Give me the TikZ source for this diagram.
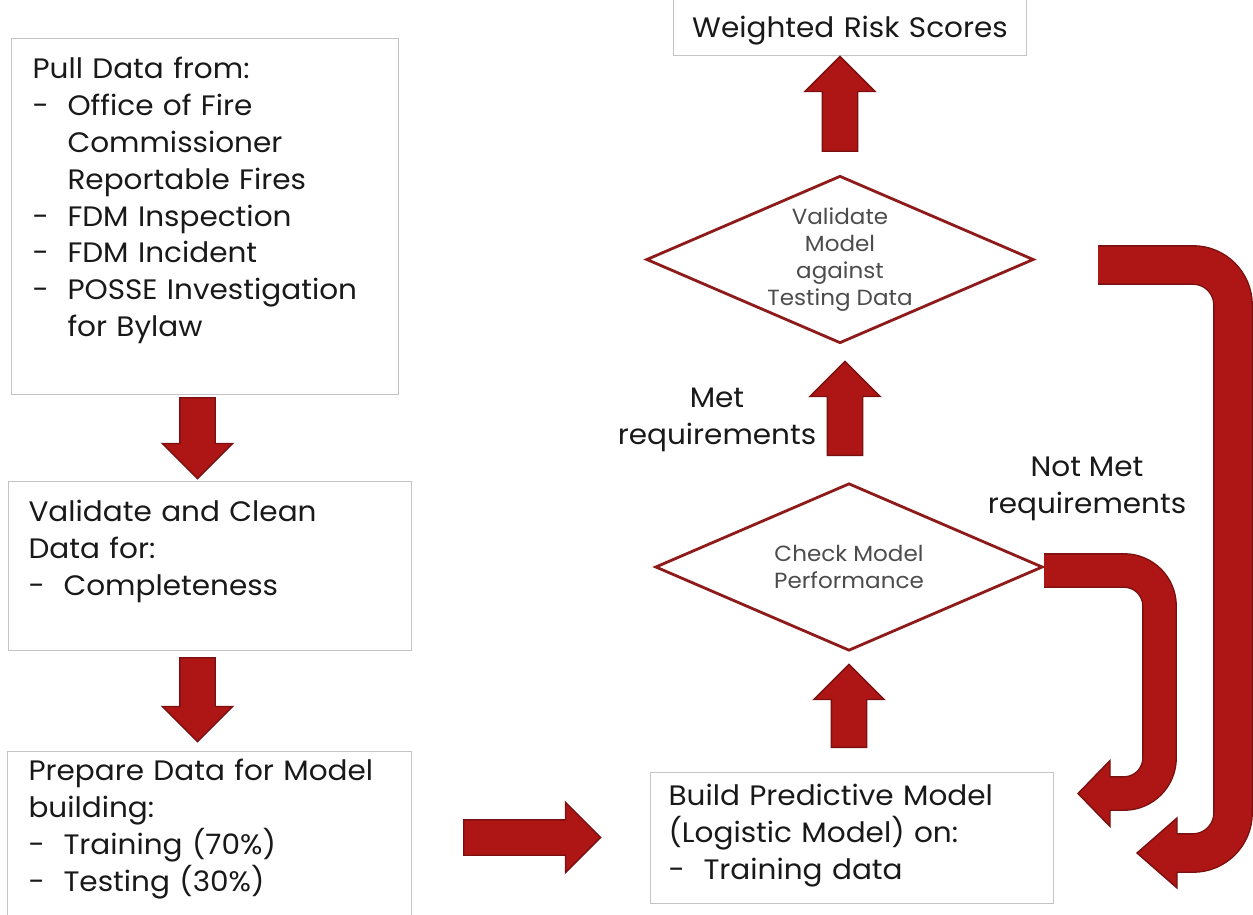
\documentclass[tikz,border=0pt]{standalone}
\usepackage{fontspec}
\setmainfont{Poppins}[FakeStretch=1.05]
\usetikzlibrary{shapes.geometric,shapes.arrows}
\definecolor{arrowred}{HTML}{AE1515}
\definecolor{arrowedge}{HTML}{7A1010}
\definecolor{diamondred}{HTML}{8E1A1A}
\definecolor{boxline}{HTML}{C4C4C4}
\newcommand\dashitem{\makebox[0.7cm][l]{-}}
\newcommand\hangitem{\hspace*{0.7cm}}

\tikzset{
  stepbox/.style={draw=boxline, line width=0.6pt, anchor=north west, align=left,
    inner ysep=0pt, text=black!90, font=\fontsize{16}{21}\selectfont},
  decision/.style={diamond, draw=diamondred, line width=1.6pt, aspect=2.3,
    minimum width=7.75cm, minimum height=3.35cm, inner sep=0pt, align=center,
    text=black!70, font=\fontsize{12.5}{15.3}\selectfont},
  blockarrow/.style={single arrow, draw=arrowedge, fill=arrowred, line width=0.8pt,
    anchor=tail, inner xsep=0pt, inner ysep=0.34cm, text height=0pt, text depth=0pt,
    single arrow head extend=0.35cm},
  loopshaft/.style={draw=arrowedge, line width=0.8pt, double=arrowred, rounded corners=#1},
  loophead/.style={fill=arrowred, draw=arrowedge, line width=0.8pt},
  steplabel/.style={align=center, text=black!90, font=\fontsize{16}{21}\selectfont}
}

\begin{document}
\begin{tikzpicture}[x=0.02cm, y=-0.02cm]
  \useasboundingbox (0,0) rectangle (1253,915);

  % left column
  \node[stepbox, inner xsep=0.42cm, text width=6.9cm, text height=0.8cm, text depth=6.32cm] (pull) at (11,38)
    {Pull Data from:\\
     \dashitem Office of Fire\\
     \hangitem Commissioner\\
     \hangitem Reportable Fires\\
     \dashitem FDM Inspection\\
     \dashitem FDM Incident\\
     \dashitem POSSE Investigation\\
     \hangitem for Bylaw};
  \node[stepbox, inner xsep=0.4cm, text width=7.26cm, text height=0.8cm, text depth=2.58cm] (clean) at (8,481)
    {Validate and Clean\\
     Data for:\\
     \dashitem Completeness};
  \node[stepbox, inner xsep=0.42cm, text width=7.24cm, text height=0.58cm, text depth=3.6cm] (prep) at (7,751)
    {Prepare Data for Model\\
     building:\\
     \dashitem Training (70\%)\\
     \dashitem Testing (30\%)};

  % right column
  \node[stepbox, inner xsep=0.36cm, text width=7.34cm, text height=0.66cm, text depth=1.96cm] (build) at (650,772)
    {Build Predictive Model\\
     (Logistic Model) on:\\
     \dashitem Training data};
  \node[decision] (check) at (849,567) {Check Model\\Performance};
  \node[decision] (validate) at (840,259.5) {Validate\\Model\\against\\Testing Data};
  \node[stepbox, align=center, inner xsep=0pt, text width=7.06cm, text height=0.84cm, text depth=0.36cm] (score) at (673,-5)
    {Weighted Risk Scores};

  \node[steplabel] (met) at (717,420) {Met\\requirements};
  \node[steplabel] (notmet) at (1087,489) {Not Met\\requirements};

  % block arrows
  \node[blockarrow, rotate=-90, minimum height=1.62cm] (a1) at (197.5,397) {};
  \node[blockarrow, rotate=-90, minimum height=1.68cm] (a2) at (197.5,657) {};
  \node[blockarrow, minimum height=2.74cm] (a3) at (463,837.5) {};
  \node[blockarrow, rotate=90, minimum height=1.66cm] (a4) at (849,748) {};
  \node[blockarrow, rotate=90, minimum height=1.88cm] (a5) at (845,456) {};
  \node[blockarrow, rotate=90, minimum height=1.9cm] (a6) at (840,152) {};

  % loops back to the model
  \coordinate (smalltip) at (1078,793.5);
  \coordinate (bigtip) at (1137,853);
  \draw[loopshaft=0.71cm, double distance=0.64cm] (1044,570.5) -- (1159.5,570.5) -- (1159.5,793.5) -- (1110,793.5);
  \filldraw[loophead] (1110,777) -- (1110,760.5) -- (smalltip) -- (1110,826.5) -- (1110,810);
  \draw[loopshaft=0.8cm, double distance=0.74cm] (1098,265) -- (1233,265) -- (1233,853) -- (1177,853);
  \filldraw[loophead] (1177,834) -- (1177,818) -- (bigtip) -- (1177,888) -- (1177,872);
\end{tikzpicture}
\end{document}
